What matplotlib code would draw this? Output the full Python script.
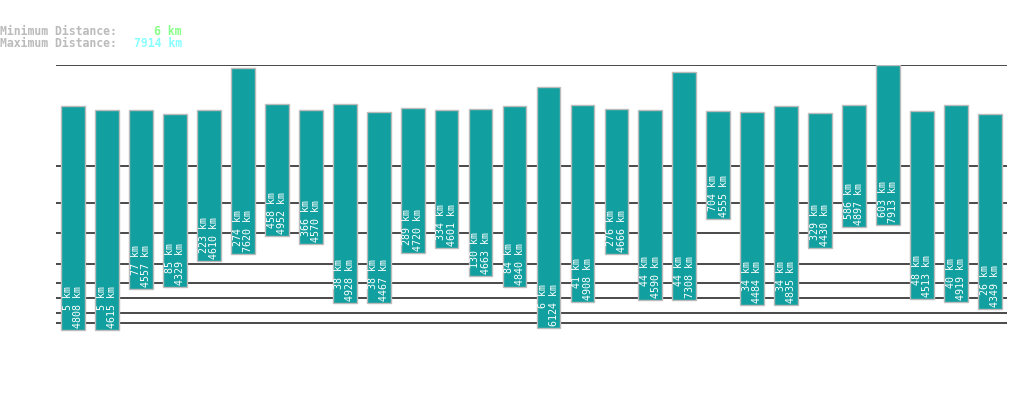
import matplotlib
matplotlib.use("Agg")
import matplotlib.pyplot as plt
from matplotlib import transforms

# min / max distance per bar (km)
min_km = [5, 5, 77, 85, 223, 274, 458, 366, 38, 38, 289, 334, 130, 84,
          6, 41, 276, 44, 44, 704, 34, 34, 329, 586, 603, 48, 40, 26]
max_km = [4808, 4615, 4557, 4329, 4610, 7620, 4952, 4570, 4928, 4467, 4720, 4601, 4663, 4840,
          6124, 4908, 4666, 4590, 7308, 4555, 4484, 4835, 4430, 4897, 7913, 4513, 4919, 4349]
grid_km = [10, 20, 50, 100, 200, 500, 1000, 2000]
overall_min = 6
overall_max = 7914

W, H = 1019, 402
fig = plt.figure(figsize=(W / 100, H / 100), dpi=100)
ax = fig.add_axes([56 / W, (H - 364) / H, 951 / W, (364 - 66) / H])

# power scale (exponent 0.3)
p = 0.3
ax.set_yscale('function', functions=(lambda v: abs(v) ** p, lambda v: abs(v) ** (1 / p)))
ax.set_ylim(0, overall_max)
ax.set_xlim(-0.5, len(min_km) - 0.5)

for g in grid_km + [overall_max]:
    ax.axhline(g, color='#3a3a3a', lw=1.3, zorder=0)

x = list(range(len(min_km)))
heights = [hi - lo for lo, hi in zip(min_km, max_km)]
ax.bar(x, heights, bottom=min_km, width=0.7, color='#119f9f',
       edgecolor='#bbbbbb', linewidth=1, zorder=2)

off = transforms.offset_copy(ax.transData, fig=fig, y=3, units='dots')
for i, lo, hi in zip(x, min_km, max_km):
    ax.text(i, lo, f"{lo} km\n{hi} km", rotation=90, ha='center', va='bottom',
            multialignment='right', color='white', fontsize=7.2,
            family='DejaVu Sans Mono', linespacing=1.05, transform=off, zorder=3)

for s in ax.spines.values():
    s.set_visible(False)
ax.set_xticks([])
ax.set_yticks([])

hdr = dict(family='DejaVu Sans Mono', fontsize=8.3, va='center', fontweight='bold')
fig.text(0, 1 - 31.5 / H, "Minimum Distance:", color='#bbbbbb', ha='left', **hdr)
fig.text(182 / W, 1 - 31.5 / H, f"{overall_min} km", color='#88ff88', ha='right', **hdr)
fig.text(0, 1 - 43.5 / H, "Maximum Distance:", color='#bbbbbb', ha='left', **hdr)
fig.text(182 / W, 1 - 43.5 / H, f"{overall_max} km", color='#88ffff', ha='right', **hdr)

fig.savefig('out.png', dpi=100)
